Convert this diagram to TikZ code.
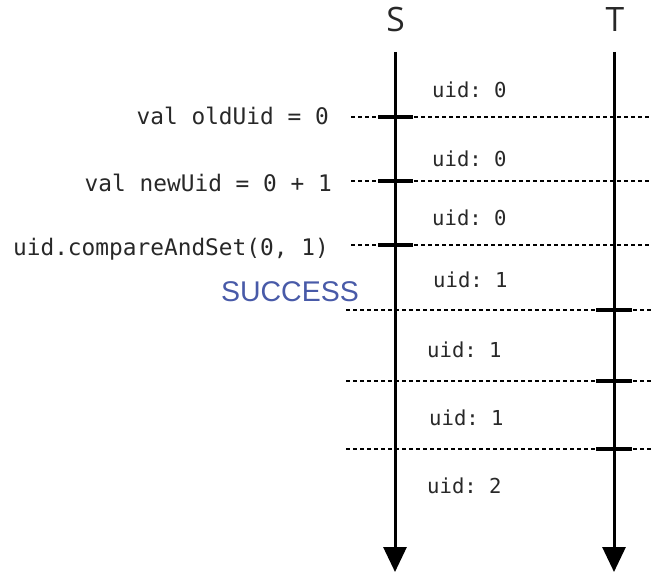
\documentclass[tikz,border=0pt]{standalone}
\usepackage{fontspec}
\setmainfont{Open Sans}
\setsansfont{Liberation Sans}
\setmonofont{DejaVu Sans Mono}
\usetikzlibrary{arrows.meta}

\definecolor{successblue}{RGB}{72,90,168}
\definecolor{codegray}{RGB}{40,40,40}

\tikzset{
  lifeline/.style={line width=3pt, -{Triangle[width=23pt,length=25pt]}},
  tickmark/.style={line width=3.5pt},
  syncline/.style={line width=1.2pt, dash pattern=on 4pt off 3pt},
  proclabel/.style={font=\fontsize{33.6}{40}\selectfont, text=codegray, anchor=base, inner sep=0pt},
  codelabel/.style={font=\ttfamily\fontsize{22.8}{27}\selectfont, text=codegray, anchor=base east, inner sep=0pt},
  uidlabel/.style={font=\ttfamily\fontsize{20.6}{24}\selectfont, text=codegray, anchor=base west, inner sep=0pt},
  resultlabel/.style={font=\sffamily\fontsize{28.5}{34}\selectfont, text=successblue, anchor=base east, inner sep=0pt},
}

\begin{document}
\begin{tikzpicture}[x=1pt,y=-1pt]
  \useasboundingbox (0,0) rectangle (652,575);

  % processes
  \node[proclabel] (S) at (395.5,32) {S};
  \node[proclabel] (T) at (615,32) {T};
  \coordinate (S top) at (395,52);
  \coordinate (S end) at (395,572);
  \coordinate (T top) at (614,52);
  \coordinate (T end) at (614,572);
  \draw[lifeline] (S top) -- (S end);
  \draw[lifeline] (T top) -- (T end);

  % steps
  \foreach \y/\x [count=\i] in {117/351,181/351,245/351,310/346,381/346,449/346} {
    \coordinate (step\i a) at (\x,\y);
    \coordinate (step\i b) at (652,\y);
    \draw[syncline] (step\i a) -- (step\i b);
  }
  \foreach \y in {117,181,245}
    \draw[tickmark] (378,\y) -- (413,\y);
  \foreach \y in {310,381,449}
    \draw[tickmark] (596,\y) -- (632,\y);

  % code on S
  \node[codelabel] (old) at (329,124) {val oldUid = 0};
  \node[codelabel] (new) at (332,191) {val newUid = 0 + 1};
  \node[codelabel] (cas) at (329,255) {uid.compareAndSet(0, 1)};
  \node[resultlabel] (ok) at (359,301) {SUCCESS};

  % value of uid
  \node[uidlabel] (u1) at (432,97) {uid: 0};
  \node[uidlabel] (u2) at (432,166) {uid: 0};
  \node[uidlabel] (u3) at (432,225) {uid: 0};
  \node[uidlabel] (u4) at (433,287) {uid: 1};
  \node[uidlabel] (u5) at (427,357) {uid: 1};
  \node[uidlabel] (u6) at (429,425) {uid: 1};
  \node[uidlabel] (u7) at (427,493) {uid: 2};
\end{tikzpicture}
\end{document}
